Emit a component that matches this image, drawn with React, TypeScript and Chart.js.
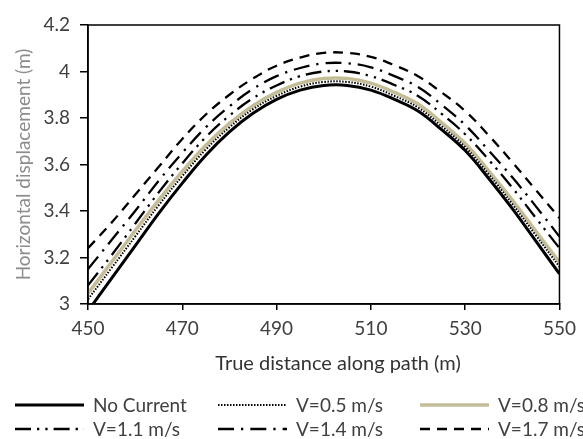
import React, { useEffect, useRef } from 'react';
import { Chart, registerables } from 'chart.js';

Chart.register(...registerables);

const distances = [450, 455, 460, 465, 470, 475, 480, 485, 490, 495, 500, 505, 510, 515, 520, 525, 530, 535, 540, 545, 550];
const noCurrent = [2.97, 3.11, 3.25, 3.39, 3.52, 3.64, 3.74, 3.82, 3.88, 3.92, 3.94, 3.94, 3.92, 3.88, 3.83, 3.75, 3.66, 3.54, 3.41, 3.27, 3.13];
const v05 = [3.02, 3.155, 3.29, 3.425, 3.55, 3.665, 3.76, 3.838, 3.895, 3.935, 3.955, 3.955, 3.935, 3.895, 3.845, 3.765, 3.675, 3.558, 3.43, 3.295, 3.16];
const v08 = [3.045, 3.18, 3.315, 3.447, 3.57, 3.683, 3.777, 3.853, 3.91, 3.95, 3.97, 3.97, 3.95, 3.91, 3.86, 3.78, 3.69, 3.573, 3.447, 3.313, 3.18];
const v11 = [3.08, 3.21, 3.345, 3.48, 3.605, 3.718, 3.81, 3.885, 3.94, 3.98, 4.0, 4.0, 3.98, 3.942, 3.895, 3.818, 3.73, 3.62, 3.5, 3.37, 3.24];
const v14 = [3.15, 3.275, 3.4, 3.53, 3.65, 3.76, 3.85, 3.925, 3.98, 4.015, 4.035, 4.035, 4.018, 3.98, 3.933, 3.857, 3.77, 3.66, 3.545, 3.42, 3.29];
const v17 = [3.24, 3.35, 3.47, 3.59, 3.71, 3.815, 3.9, 3.97, 4.025, 4.06, 4.08, 4.08, 4.063, 4.027, 3.98, 3.91, 3.83, 3.725, 3.61, 3.49, 3.37];

const seriesLabels = ['No Current', 'V=0.5 m/s', 'V=0.8 m/s', 'V=1.1 m/s', 'V=1.4 m/s', 'V=1.7 m/s'];
const xTicks = [450, 470, 490, 510, 530, 550];
const yTicks = [3, 3.2, 3.4, 3.6, 3.8, 4, 4.2];
const xTitle = 'True distance along path (m)';
const yTitle = 'Horizontal displacement (m)';

const FONT = 'Lato, "Open Sans", sans-serif';

const framePlugin = {
  id: 'frame',
  afterDatasetsDraw(chart: any) {
    const { ctx, chartArea } = chart;
    const { left, top, right, bottom } = chartArea;
    ctx.save();
    ctx.strokeStyle = '#000';
    ctx.lineWidth = 1.5;
    ctx.strokeRect(left, top, right - left, bottom - top);
    ctx.restore();
  },
};

const xTitlePlugin = {
  id: 'xTitle',
  afterDraw(chart: any, _args: any, opts: any) {
    const ctx = chart.ctx;
    ctx.save();
    ctx.fillStyle = opts.color;
    ctx.font = opts.font;
    ctx.textAlign = 'center';
    ctx.textBaseline = 'middle';
    ctx.fillText(opts.text, opts.x, opts.y);
    ctx.restore();
  },
};

const gridLegend = {
  id: 'gridLegend',
  afterDraw(chart: any, _args: any, opts: any) {
    const ctx = chart.ctx;
    chart.data.datasets.forEach((ds: any, i: number) => {
      const col = i % 3;
      const row = Math.floor(i / 3);
      const x = opts.colX[col];
      const y = opts.rowY[row];
      ctx.save();
      ctx.strokeStyle = ds.borderColor;
      ctx.lineWidth = ds.borderWidth;
      ctx.setLineDash(ds.borderDash || []);
      ctx.lineCap = 'butt';
      ctx.beginPath();
      ctx.moveTo(x, y);
      ctx.lineTo(x + opts.lineLen, y);
      ctx.stroke();
      ctx.setLineDash([]);
      ctx.fillStyle = opts.color;
      ctx.font = opts.font;
      ctx.textBaseline = 'middle';
      ctx.textAlign = 'left';
      ctx.fillText(ds.label, x + opts.textGap, y + 1);
      ctx.restore();
    });
  },
};

const seriesValues = [noCurrent, v05, v08, v11, v14, v17];
const seriesStyles = [
  { color: '#000000', width: 3, dash: [] as number[] },
  { color: '#000000', width: 2, dash: [1.5, 1.5] },
  { color: '#C4BD97', width: 3.5, dash: [] as number[] },
  { color: '#000000', width: 2.3, dash: [16, 6, 2.3, 6, 2.3, 6] },
  { color: '#000000', width: 2.3, dash: [16, 7, 2.3, 7] },
  { color: '#000000', width: 2.3, dash: [10, 7] },
];

export default function App() {
  const ref = useRef<HTMLCanvasElement>(null);

  useEffect(() => {
    if (!ref.current) return;
    const datasets = seriesValues.map((vals, i) => ({
      label: seriesLabels[i],
      data: distances.map((d, j) => ({ x: d, y: vals[j] })),
      borderColor: seriesStyles[i].color,
      backgroundColor: seriesStyles[i].color,
      borderWidth: seriesStyles[i].width,
      borderDash: seriesStyles[i].dash,
      pointRadius: 0,
      tension: 0.4,
      fill: false,
      order: i,
    }));

    const chart = new Chart(ref.current, {
      type: 'line',
      data: { datasets },
      plugins: [framePlugin, xTitlePlugin, gridLegend],
      options: {
        animation: false,
        responsive: false,
        layout: { padding: { top: 25, right: 20, left: 0, bottom: 59 } },
        plugins: {
          legend: { display: false },
          tooltip: { enabled: false },
          xTitle: { text: xTitle, x: 338, y: 364, color: '#333333', font: `20px ${FONT}` },
          gridLegend: {
            colX: [15, 218, 420],
            rowY: [405, 429],
            lineLen: 69,
            textGap: 78,
            color: '#404040',
            font: `19px ${FONT}`,
          },
        } as any,
        scales: {
          x: {
            type: 'linear',
            min: 450,
            max: 550,
            afterBuildTicks: (s: any) => { s.ticks = xTicks.map((v) => ({ value: v })); },
            afterFit: (s: any) => { s.height = 76; },
            ticks: { color: '#404040', font: { family: FONT, size: 19 }, padding: 7, maxRotation: 0 },
            grid: { display: true, drawOnChartArea: false, drawTicks: true, tickLength: 6, color: '#000', lineWidth: 1.5 },
            border: { display: true, color: '#000', width: 1.5 },
            title: { display: false },
          },
          y: {
            type: 'linear',
            min: 3,
            max: 4.2,
            afterBuildTicks: (s: any) => { s.ticks = yTicks.map((v) => ({ value: v })); },
            afterFit: (s: any) => { s.width = 88; },
            ticks: { color: '#404040', font: { family: FONT, size: 19 }, padding: 10, callback: (v: any) => String(+Number(v).toFixed(1)) },
            grid: { display: true, drawOnChartArea: false, drawTicks: true, tickLength: 8, color: '#000', lineWidth: 1.5 },
            border: { display: true, color: '#000', width: 1.5 },
            title: { display: true, text: yTitle, color: '#8c8c8c', font: { family: FONT, size: 19 }, padding: { top: 12, bottom: 0 } },
          },
        },
      } as any,
    });
    return () => chart.destroy();
  }, []);

  return (
    <div style={{ position: 'fixed', left: 0, top: 0, width: 583, height: 439, background: '#fff' }}>
      <canvas ref={ref} width={583} height={439} style={{ display: 'block', width: 583, height: 439 }} />
    </div>
  );
}
